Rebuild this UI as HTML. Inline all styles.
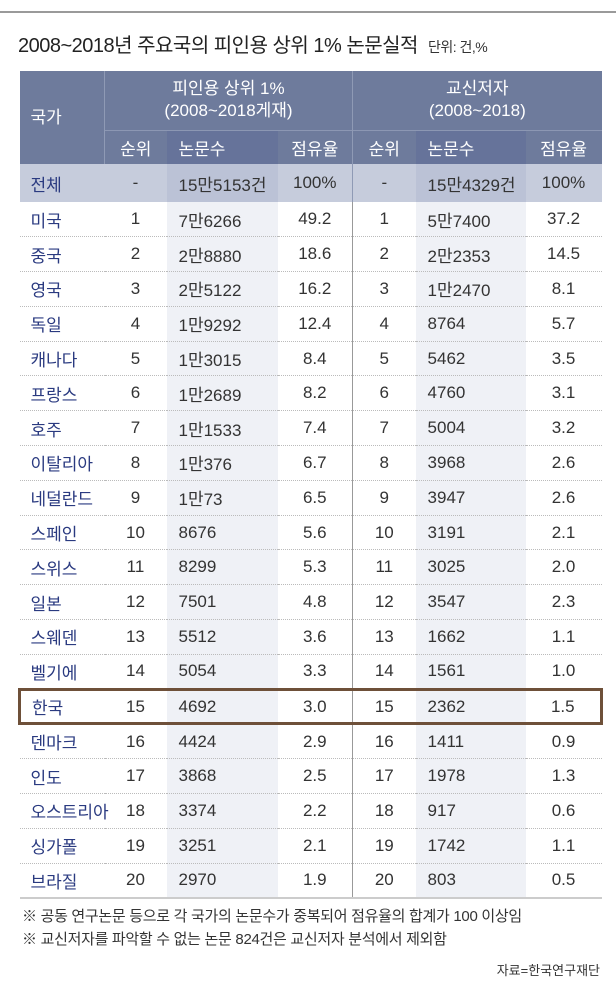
<!DOCTYPE html>
<html><head><meta charset="utf-8"><style>
*{margin:0;padding:0;box-sizing:border-box}
body{width:616px;height:988px;background:#fff;font-family:"Liberation Sans","Noto Sans CJK KR",sans-serif;color:#333;position:relative;overflow:hidden}
.topline{position:absolute;left:0;top:11px;width:616px;height:2px;background:#9a9a9a}
.title{position:absolute;left:18px;top:29px;font-size:20px;color:#222;letter-spacing:-0.5px;white-space:nowrap}
.title small{font-size:14px;margin-left:10px;color:#333}
table{position:absolute;left:18px;top:71px;width:582px;border-collapse:collapse;table-layout:fixed}
td{font-size:17px;padding:0;white-space:nowrap;text-align:center}
.h1 td,.h2 td{background:#6e7b9c;color:#fff}
.h1 td{height:59px;line-height:22px}
.h2 td{height:34px;border-top:1px solid #8c97b3}
.h2 td.s{background:#66739a}
.hc{border-right:1px solid #8f9ab5;text-align:left!important;padding-left:11px!important}
.bl{border-left:1px solid #8f9ab5}
.tot td{background:#c6ccdc;height:38px}
.tot td.s{background:#bbc2d6}
.r td{height:34.8px;border-bottom:1px dotted #bbb}
.r td.s{background:#eff1f6}
.r td.n,.tot td.n{color:#2a3a80;text-align:left;padding-left:11px}
td.l{text-align:left;padding-left:12px}
td.v{border-left:1px solid #999}
.last td{border-bottom:2px solid #ccc}
.kr td{border-top:3px solid #6e5039;border-bottom:3px solid #6e5039}
.kr td:first-child{border-left:3px solid #6e5039}
.kr td:last-child{border-right:3px solid #6e5039}
.note{position:absolute;left:22px;font-size:15px;color:#333;white-space:nowrap;letter-spacing:-0.3px}
.src{position:absolute;right:16px;top:960px;font-size:13px;color:#333}
</style></head><body>
<div class="topline"></div>
<div class="title">2008~2018년 주요국의 피인용 상위 1% 논문실적<small>단위: 건,%</small></div>
<table>
<colgroup><col style="width:85px"><col style="width:62px"><col style="width:111px"><col style="width:75px"><col style="width:63px"><col style="width:110px"><col style="width:76px"></colgroup>
<tr class="h1"><td rowspan="2" class="hc" style="vertical-align:middle">국가</td><td colspan="3">피인용 상위 1%<br>(2008~2018게재)</td><td colspan="3" class="bl">교신저자<br>(2008~2018)</td></tr>
<tr class="h2"><td>순위</td><td class="s l">논문수</td><td>점유율</td><td class="bl">순위</td><td class="s l">논문수</td><td>점유율</td></tr>
<tr class="tot"><td class="n">전체</td><td>-</td><td class="s l">15만5153건</td><td>100%</td><td class="bl">-</td><td class="s l">15만4329건</td><td>100%</td></tr>
<tr class="r"><td class="n">미국</td><td>1</td><td class="s l">7만6266</td><td>49.2</td><td class="v">1</td><td class="s l">5만7400</td><td>37.2</td></tr>
<tr class="r"><td class="n">중국</td><td>2</td><td class="s l">2만8880</td><td>18.6</td><td class="v">2</td><td class="s l">2만2353</td><td>14.5</td></tr>
<tr class="r"><td class="n">영국</td><td>3</td><td class="s l">2만5122</td><td>16.2</td><td class="v">3</td><td class="s l">1만2470</td><td>8.1</td></tr>
<tr class="r"><td class="n">독일</td><td>4</td><td class="s l">1만9292</td><td>12.4</td><td class="v">4</td><td class="s l">8764</td><td>5.7</td></tr>
<tr class="r"><td class="n">캐나다</td><td>5</td><td class="s l">1만3015</td><td>8.4</td><td class="v">5</td><td class="s l">5462</td><td>3.5</td></tr>
<tr class="r"><td class="n">프랑스</td><td>6</td><td class="s l">1만2689</td><td>8.2</td><td class="v">6</td><td class="s l">4760</td><td>3.1</td></tr>
<tr class="r"><td class="n">호주</td><td>7</td><td class="s l">1만1533</td><td>7.4</td><td class="v">7</td><td class="s l">5004</td><td>3.2</td></tr>
<tr class="r"><td class="n">이탈리아</td><td>8</td><td class="s l">1만376</td><td>6.7</td><td class="v">8</td><td class="s l">3968</td><td>2.6</td></tr>
<tr class="r"><td class="n">네덜란드</td><td>9</td><td class="s l">1만73</td><td>6.5</td><td class="v">9</td><td class="s l">3947</td><td>2.6</td></tr>
<tr class="r"><td class="n">스페인</td><td>10</td><td class="s l">8676</td><td>5.6</td><td class="v">10</td><td class="s l">3191</td><td>2.1</td></tr>
<tr class="r"><td class="n">스위스</td><td>11</td><td class="s l">8299</td><td>5.3</td><td class="v">11</td><td class="s l">3025</td><td>2.0</td></tr>
<tr class="r"><td class="n">일본</td><td>12</td><td class="s l">7501</td><td>4.8</td><td class="v">12</td><td class="s l">3547</td><td>2.3</td></tr>
<tr class="r"><td class="n">스웨덴</td><td>13</td><td class="s l">5512</td><td>3.6</td><td class="v">13</td><td class="s l">1662</td><td>1.1</td></tr>
<tr class="r"><td class="n">벨기에</td><td>14</td><td class="s l">5054</td><td>3.3</td><td class="v">14</td><td class="s l">1561</td><td>1.0</td></tr>
<tr class="r kr"><td class="n">한국</td><td>15</td><td class="s l">4692</td><td>3.0</td><td class="v">15</td><td class="s l">2362</td><td>1.5</td></tr>
<tr class="r"><td class="n">덴마크</td><td>16</td><td class="s l">4424</td><td>2.9</td><td class="v">16</td><td class="s l">1411</td><td>0.9</td></tr>
<tr class="r"><td class="n">인도</td><td>17</td><td class="s l">3868</td><td>2.5</td><td class="v">17</td><td class="s l">1978</td><td>1.3</td></tr>
<tr class="r"><td class="n">오스트리아</td><td>18</td><td class="s l">3374</td><td>2.2</td><td class="v">18</td><td class="s l">917</td><td>0.6</td></tr>
<tr class="r"><td class="n">싱가폴</td><td>19</td><td class="s l">3251</td><td>2.1</td><td class="v">19</td><td class="s l">1742</td><td>1.1</td></tr>
<tr class="r last"><td class="n">브라질</td><td>20</td><td class="s l">2970</td><td>1.9</td><td class="v">20</td><td class="s l">803</td><td>0.5</td></tr>
</table>
<div class="note" style="top:905px">※ 공동 연구논문 등으로 각 국가의 논문수가 중복되어 점유율의 합계가 100 이상임</div>
<div class="note" style="top:928px">※ 교신저자를 파악할 수 없는 논문 824건은 교신저자 분석에서 제외함</div>
<div class="src">자료=한국연구재단</div>
</body></html>
